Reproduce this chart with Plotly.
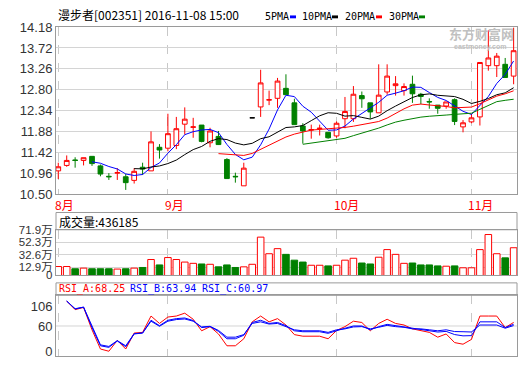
import plotly.graph_objects as go
import pandas as pd

W, H = 520, 365
LEFT, RIGHT = 56, 517


def px(x):
    return x / W


def py(y):
    return 1 - y / H


# ---------------- data ----------------
stock_title = "漫步者[002351] 2016-11-08 15:00"
days = list(range(55))
opens = [11.01, 11.13, 11.25, 11.24, 11.33, 11.12, 10.89, 10.96, 10.88, 10.80,
         11.09, 11.01, 11.53, 11.51, 11.57, 12.04, 11.97, 12.02, 11.63, 11.77,
         11.26, 10.89, 10.68, 12.18, 12.42, 12.57, 12.61, 12.83, 12.51, 12.00,
         11.91, 11.94, 11.86, 11.78, 12.16, 12.16, 12.67, 12.51, 12.29, 12.75,
         12.89, 12.78, 12.92, 12.70, 12.54, 12.46, 12.44, 12.58, 11.98, 12.09,
         12.20, 13.33, 13.33, 13.36, 13.10]
highs = [11.19, 11.35, 11.31, 11.30, 11.33, 11.15, 10.96, 11.07, 10.94, 11.07,
         11.19, 11.88, 11.60, 12.27, 12.20, 12.41, 12.18, 12.02, 11.96, 11.89,
         11.29, 10.97, 11.19, 12.18, 13.24, 12.78, 13.06, 13.14, 12.60, 12.06,
         12.03, 12.03, 11.86, 12.10, 12.64, 12.88, 12.76, 12.51, 13.36, 13.36,
         13.10, 12.94, 13.11, 12.73, 12.61, 12.46, 12.53, 12.61, 12.13, 12.27,
         13.40, 14.11, 13.61, 13.50, 14.17]
lows = [10.83, 11.10, 11.08, 11.13, 11.12, 10.89, 10.81, 10.81, 10.59, 10.73,
        10.92, 11.01, 11.28, 11.44, 11.49, 11.81, 11.74, 11.64, 11.53, 11.58,
        10.84, 10.75, 10.68, 12.18, 12.20, 12.46, 12.40, 12.69, 12.03, 11.61,
        11.72, 11.79, 11.72, 11.74, 11.95, 12.09, 12.40, 12.16, 12.29, 12.69,
        12.67, 12.67, 12.51, 12.48, 12.38, 12.27, 12.38, 12.02, 11.86, 12.06,
        12.01, 13.22, 13.08, 13.07, 12.92]
closes = [11.10, 11.24, 11.24, 11.30, 11.17, 10.94, 10.88, 10.97, 10.75, 11.00,
          11.05, 11.65, 11.47, 11.83, 11.94, 12.15, 11.98, 11.66, 11.89, 11.59,
          10.84, 10.88, 11.07, 12.18, 12.95, 12.58, 12.99, 12.69, 12.03, 11.89,
          11.92, 11.95, 11.74, 12.06, 12.32, 12.70, 12.60, 12.31, 12.68, 13.10,
          12.93, 12.87, 12.71, 12.65, 12.53, 12.39, 12.53, 12.10, 12.07, 12.18,
          13.40, 13.50, 13.54, 13.07, 13.66]
volumes = [141000, 141000, 106000, 116000, 106000, 106000, 106000, 101000, 106000, 116000,
           126000, 251000, 166000, 282000, 251000, 211000, 191000, 181000, 176000, 136000,
           166000, 126000, 136000, 176000, 603000, 342000, 422000, 332000, 241000, 211000,
           161000, 161000, 151000, 161000, 241000, 271000, 196000, 181000, 287000, 407000,
           332000, 191000, 196000, 166000, 166000, 151000, 146000, 151000, 121000, 121000,
           407000, 644000, 342000, 277000, 436185]
rsi_a = [None, 118.2, 98.1, 103.3, 51.1, 6.3, 1.1, 26.5, 6.3, 43.6,
         45.1, 83.2, 66.0, 80.9, 83.2, 89.9, 75.7, 48.8, 58.5, 41.4,
         13.8, 13.8, 30.2, 69.7, 83.2, 69.7, 77.2, 62.3, 39.9, 36.2,
         36.2, 36.2, 30.2, 49.6, 58.5, 71.2, 68.2, 48.8, 66.0, 75.7,
         66.0, 62.3, 53.3, 48.8, 45.1, 33.9, 41.4, 21.3, 17.5, 28.7,
         83.2, 83.2, 83.2, 56.3, 68.25]
rsi_b = [None, 118.2, 99.6, 104.0, 56.3, 13.8, 10.1, 25.0, 11.6, 41.4,
         43.6, 73.4, 60.8, 73.4, 77.2, 78.7, 72.7, 56.3, 58.5, 47.4,
         30.2, 30.2, 38.4, 68.2, 73.4, 66.0, 68.2, 60.8, 48.8, 46.6,
         46.6, 46.6, 42.9, 49.6, 54.8, 60.0, 60.0, 51.1, 58.5, 63.8,
         60.8, 58.5, 54.8, 51.1, 48.8, 45.9, 47.4, 40.0, 37.0, 37.5,
         69.7, 69.7, 69.7, 56.3, 63.94]
rsi_c = [None, 118.2, 100.3, 104.0, 58.5, 16.0, 12.3, 25.8, 13.8, 42.1,
         43.6, 71.2, 59.3, 71.2, 75.0, 76.4, 71.2, 57.8, 59.3, 49.6,
         33.9, 33.9, 39.9, 66.0, 69.7, 64.5, 66.0, 58.5, 51.1, 48.8,
         48.8, 48.8, 45.1, 51.1, 53.3, 57.8, 58.5, 53.3, 57.0, 61.5,
         58.5, 57.0, 53.3, 53.3, 51.1, 48.8, 51.1, 47.0, 46.6, 46.0,
         62.3, 62.3, 62.3, 54.8, 60.97]

month_labels = ["8月", "9月", "10月", "11月"]
month_pos = [0, 13, 33, 49]
price_ticks = [10.50, 10.96, 11.42, 11.88, 12.34, 12.80, 13.26, 13.72, 14.18]
vol_ticks = [0, 129000, 326000, 523000, 719000]
vol_tick_text = ["0", "12.9万", "32.6万", "52.3万", "71.9万"]
rsi_ticks = [0, 60, 106]
ma_periods = [5, 10, 20, 30]
ma_names = ["5PMA", "10PMA", "20PMA", "30PMA"]

# ---------------- styles ----------------
RED = "#ff0000"
GREEN = "#008000"
BLUE = "#0000ff"
BLACK = "#000000"
ma_colors = [BLUE, BLACK, RED, GREEN]
FRAME = "#9a9a9a"
GRID = "#d4d4d4"
VGRID = "#c8c8c8"
TICKFONT = dict(family="Liberation Sans", size=13, color="#333333")
VOLFONT = dict(family="Liberation Sans, Noto Sans CJK SC", size=11.5,
               color="#333333")
CJK = "Noto Sans CJK SC"
MONO = "DejaVu Sans Mono"

closes_s = pd.Series(closes, dtype=float)
ma_lines = [closes_s.rolling(p).mean() for p in ma_periods]

flat = [h == l for h, l in zip(highs, lows)]
norm_idx = [i for i in days if not flat[i]]
flat_idx = [i for i in days if flat[i]]
up = [c >= o for o, c in zip(opens, closes)]

fig = go.Figure()

fig.add_trace(go.Candlestick(
    x=[days[i] for i in norm_idx],
    open=[opens[i] for i in norm_idx],
    high=[highs[i] for i in norm_idx],
    low=[lows[i] for i in norm_idx],
    close=[closes[i] for i in norm_idx],
    increasing=dict(line=dict(color=RED, width=1), fillcolor="#ffffff"),
    decreasing=dict(line=dict(color=GREEN, width=1), fillcolor=GREEN),
    whiskerwidth=0, showlegend=False, hoverinfo="skip",
    xaxis="x", yaxis="y"))
if flat_idx:
    fig.add_trace(go.Candlestick(
        x=[days[i] for i in flat_idx],
        open=[opens[i] for i in flat_idx],
        high=[highs[i] for i in flat_idx],
        low=[lows[i] for i in flat_idx],
        close=[closes[i] for i in flat_idx],
        increasing=dict(line=dict(color=BLACK, width=1), fillcolor=BLACK),
        decreasing=dict(line=dict(color=BLACK, width=1), fillcolor=BLACK),
        whiskerwidth=0, showlegend=False, hoverinfo="skip",
        xaxis="x", yaxis="y"))

for ma, col in zip(ma_lines, ma_colors):
    fig.add_trace(go.Scatter(x=days, y=ma, mode="lines",
                             line=dict(color=col, width=1),
                             showlegend=False, hoverinfo="skip",
                             xaxis="x", yaxis="y"))

fig.add_trace(go.Bar(
    x=days, y=volumes, width=0.78,
    marker=dict(color=["#ffffff" if u else GREEN for u in up],
                line=dict(color=[RED if u else GREEN for u in up], width=1)),
    showlegend=False, hoverinfo="skip", xaxis="x2", yaxis="y2"))

for series, col in zip([rsi_a, rsi_b, rsi_c], [RED, BLUE, BLUE]):
    fig.add_trace(go.Scatter(x=days, y=series, mode="lines",
                             line=dict(color=col, width=1),
                             showlegend=False, hoverinfo="skip",
                             xaxis="x3", yaxis="y3"))

xdom = [px(LEFT), px(RIGHT)]
xcommon = dict(domain=xdom, range=[-0.27, 54.4], tickvals=month_pos,
               showticklabels=False, showgrid=True, gridcolor=VGRID,
               griddash="dash", gridwidth=1, zeroline=False, showline=True,
               mirror=True, linecolor=FRAME, linewidth=1, ticks="",
               fixedrange=True)

ycommon = dict(showline=True, mirror=True, linecolor=FRAME, linewidth=1,
               zeroline=False, ticks="", gridcolor=GRID,
               gridwidth=1, fixedrange=True)

fig.update_layout(
    width=W, height=H, margin=dict(l=0, r=0, t=0, b=0),
    paper_bgcolor="#ffffff", plot_bgcolor="#ffffff",
    font=dict(family="Liberation Sans", size=12, color="#000000"),
    boxgap=0.2, bargap=0.2, hovermode=False,
    xaxis=dict(**xcommon, anchor="y", rangeslider=dict(visible=False)),
    xaxis2=dict(**xcommon, anchor="y2", matches="x"),
    xaxis3=dict(**xcommon, anchor="y3", matches="x"),
    yaxis=dict(**ycommon, domain=[py(195), py(21)], range=[10.50, 14.18],
               tickvals=price_ticks, tickfont=TICKFONT,
               ticktext=[f"{v:.2f}" for v in price_ticks], showgrid=True,
               anchor="x"),
    yaxis2=dict(**ycommon, domain=[py(280), py(232.3)], range=[0, 719000],
                tickvals=vol_ticks[1:], ticktext=vol_tick_text[1:],
                showgrid=True, tickfont=VOLFONT, anchor="x2"),
    yaxis3=dict(**ycommon, domain=[py(364), py(300.7)], range=[-10.1, 131.5],
                tickvals=rsi_ticks, ticktext=[str(v) for v in rsi_ticks],
                tickfont=TICKFONT, showgrid=False, anchor="x3"),
)

shapes = []
# header boxes for volume and RSI panels
shapes.append(dict(type="rect", xref="paper", yref="paper",
                   x0=px(LEFT), x1=px(RIGHT), y0=py(232.3), y1=py(214.3),
                   line=dict(color=FRAME, width=1)))
shapes.append(dict(type="rect", xref="paper", yref="paper",
                   x0=px(LEFT), x1=px(RIGHT), y0=py(300.7), y1=py(287.7),
                   line=dict(color=FRAME, width=1)))
# RSI 60 line
shapes.append(dict(type="line", xref="paper", yref="y3",
                   x0=px(LEFT), x1=px(RIGHT), y0=60, y1=60, layer="below",
                   line=dict(color=GRID, width=1)))

annotations = []
annotations.append(dict(text=stock_title, xref="paper", yref="paper",
                        x=px(56), y=py(7.5), xanchor="left", yanchor="middle",
                        showarrow=False,
                        font=dict(family=CJK, size=12, color="#000000")))

# volume zero label (placed at the zero level of the volume axis)
annotations.append(dict(text=vol_tick_text[0], xref="paper", yref="y2",
                        x=px(54), y=vol_ticks[0], xanchor="right",
                        yanchor="middle", yshift=0.5, showarrow=False,
                        font=VOLFONT))

# MA legend
leg_x = [263, 300, 343, 387]
sw_x = [290, 332, 376, 419]
for name, col, lx, sx in zip(ma_names, ma_colors, leg_x, sw_x):
    annotations.append(dict(text=name, xref="paper", yref="paper",
                            x=px(lx), y=py(9.5), xanchor="left",
                            yanchor="middle", showarrow=False,
                            font=dict(family=MONO, size=10, color="#000000")))
    shapes.append(dict(type="rect", xref="paper", yref="paper",
                       x0=px(sx), x1=px(sx + 6), y0=py(11.8), y1=py(8.8),
                       fillcolor=col, line=dict(width=0)))

# watermark
annotations.append(dict(text="<b>东方财富网</b>", xref="paper", yref="paper",
                        x=px(481), y=py(27.5), xanchor="center",
                        yanchor="middle", showarrow=False,
                        font=dict(family=CJK, size=13, color="#c0c0c0")))
annotations.append(dict(text="<b>eastmoney.com</b>", xref="paper",
                        yref="paper", x=px(480), y=py(41.5), xanchor="center",
                        yanchor="middle", showarrow=False,
                        font=dict(family="Liberation Sans", size=7,
                                  color="#c0c0c0")))

# month labels
for lab, pos in zip(month_labels, month_pos):
    annotations.append(dict(text=lab, xref="x", yref="paper", x=pos,
                            y=py(206), xanchor="left", xshift=-5,
                            yanchor="middle", showarrow=False,
                            font=dict(family=CJK, size=12, color=RED)))

# volume header
annotations.append(dict(text=f"成交量:{volumes[-1]}", xref="paper",
                        yref="paper", x=px(57), y=py(223.3), xanchor="left",
                        yanchor="middle", showarrow=False,
                        font=dict(family=CJK, size=12, color="#000000")))

# RSI header
rsi_hdr = [("RSI_A", rsi_a[-1], RED, 57), ("RSI_B", rsi_b[-1], BLUE, 128),
           ("RSI_C", rsi_c[-1], BLUE, 200)]
for name, val, col, hx in rsi_hdr:
    annotations.append(dict(text=f"{name}:{val:.2f}", xref="paper",
                            yref="paper", x=px(hx), y=py(294.2),
                            xanchor="left", yanchor="middle", showarrow=False,
                            font=dict(family=MONO, size=10, color=col)))

fig.update_layout(shapes=shapes, annotations=annotations)

fig.write_html(
    "out.html",
    config={"displayModeBar": False, "staticPlot": True},
    post_script="document.body.style.margin='0px';"
                "document.body.style.padding='0px';")
